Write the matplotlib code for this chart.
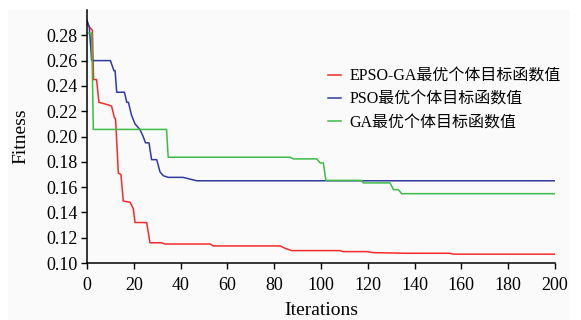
import matplotlib
matplotlib.use("Agg")
import matplotlib.pyplot as plt
from matplotlib.patches import Rectangle

# breakpoints (iteration, fitness)
epso_x = [0, 1.3, 2.3, 2.8, 4.1, 5.1, 9.1, 10.5, 11.7, 12.2, 13.4, 14.5, 15.5, 18.4,
          19.8, 20.5, 25.5, 26.9, 31.9, 33.3, 52.6, 54, 82.5, 84.6, 87.5, 108,
          109.5, 119.5, 122.4, 136, 155, 156.5, 200]
epso_y = [0.290, 0.286, 0.284, 0.245, 0.245, 0.227, 0.225, 0.224, 0.215, 0.214, 0.171,
          0.170, 0.149, 0.148, 0.143, 0.132, 0.132, 0.116, 0.116, 0.115, 0.115,
          0.1135, 0.1135, 0.1117, 0.1098, 0.1098, 0.109, 0.109, 0.1082, 0.1077,
          0.1077, 0.107, 0.107]

pso_x = [0, 1, 2, 10, 11.5, 12, 12.7, 16, 17, 17.7, 19, 20.5, 22.6, 24, 25, 26.5,
         27.6, 29.8, 31.2, 32.6, 34.7, 41, 44.7, 46.9, 200]
pso_y = [0.292, 0.286, 0.260, 0.260, 0.252, 0.252, 0.235, 0.235, 0.227, 0.227, 0.217,
         0.210, 0.2056, 0.200, 0.195, 0.195, 0.1817, 0.1817, 0.172, 0.169, 0.1677,
         0.1677, 0.166, 0.165, 0.165]

ga_x = [0, 2, 2.7, 34, 34.7, 86.8, 88.2, 98.2, 99.6, 101, 102.1, 117.4, 118, 129.5,
        131, 133, 134.5, 200]
ga_y = [0.2817, 0.2817, 0.2056, 0.2056, 0.1836, 0.1836, 0.1823, 0.1823, 0.1791,
        0.1791, 0.1653, 0.1653, 0.1633, 0.1633, 0.158, 0.158, 0.1548, 0.1548]

labels = ["EPSO-GA最优个体目标函数值", "PSO最优个体目标函数值", "GA最优个体目标函数值"]
colors = ["#f52a2a", "#2f3c9e", "#3dbb45"]

x_ticks = list(range(0, 201, 20))
y_ticks = [0.10, 0.12, 0.14, 0.16, 0.18, 0.20, 0.22, 0.24, 0.26, 0.28]

fonts = ["Liberation Serif", "Noto Sans CJK SC", "DejaVu Sans"]
plt.rcParams["font.family"] = fonts
bg = "#fafafa"

fig = plt.figure(figsize=(5.81, 3.2), dpi=100, facecolor="white")
fig.patches.append(Rectangle((8 / 581, 0), 562 / 581, 1 - 10 / 320,
                             transform=fig.transFigure, facecolor=bg,
                             edgecolor="none", zorder=-10))
ax = fig.add_axes([87 / 581, 1 - 263 / 320, 468 / 581, 253 / 320])
ax.set_facecolor(bg)

for xs, ys, lab, col in zip([epso_x, pso_x, ga_x], [epso_y, pso_y, ga_y], labels, colors):
    ax.plot(xs, ys, color=col, linewidth=1.1, label=lab)

ax.set_xlim(0, 200)
ax.set_ylim(0.10, 0.30)
ax.set_xticks(x_ticks)
ax.set_yticks(y_ticks)
ax.set_yticklabels([f"{v:.2f}" for v in y_ticks])
ax.tick_params(direction="out", length=4, width=1, labelsize=13)
ax.tick_params(axis="x", pad=6)
ax.tick_params(axis="y", pad=3)
for s in ["top", "right"]:
    ax.spines[s].set_visible(False)
for s in ["left", "bottom"]:
    ax.spines[s].set_linewidth(1.1)

ax.set_xlabel("Iterations", fontsize=14, labelpad=6)
ax.set_ylabel("Fitness", fontsize=14, labelpad=12)

ax.legend(loc="upper left", bbox_to_anchor=(0.485, 0.825), frameon=False,
          fontsize=11.5, handlelength=0.8, handletextpad=0.5, labelspacing=0.45)

fig.savefig("out.png", dpi=100, facecolor="white")
